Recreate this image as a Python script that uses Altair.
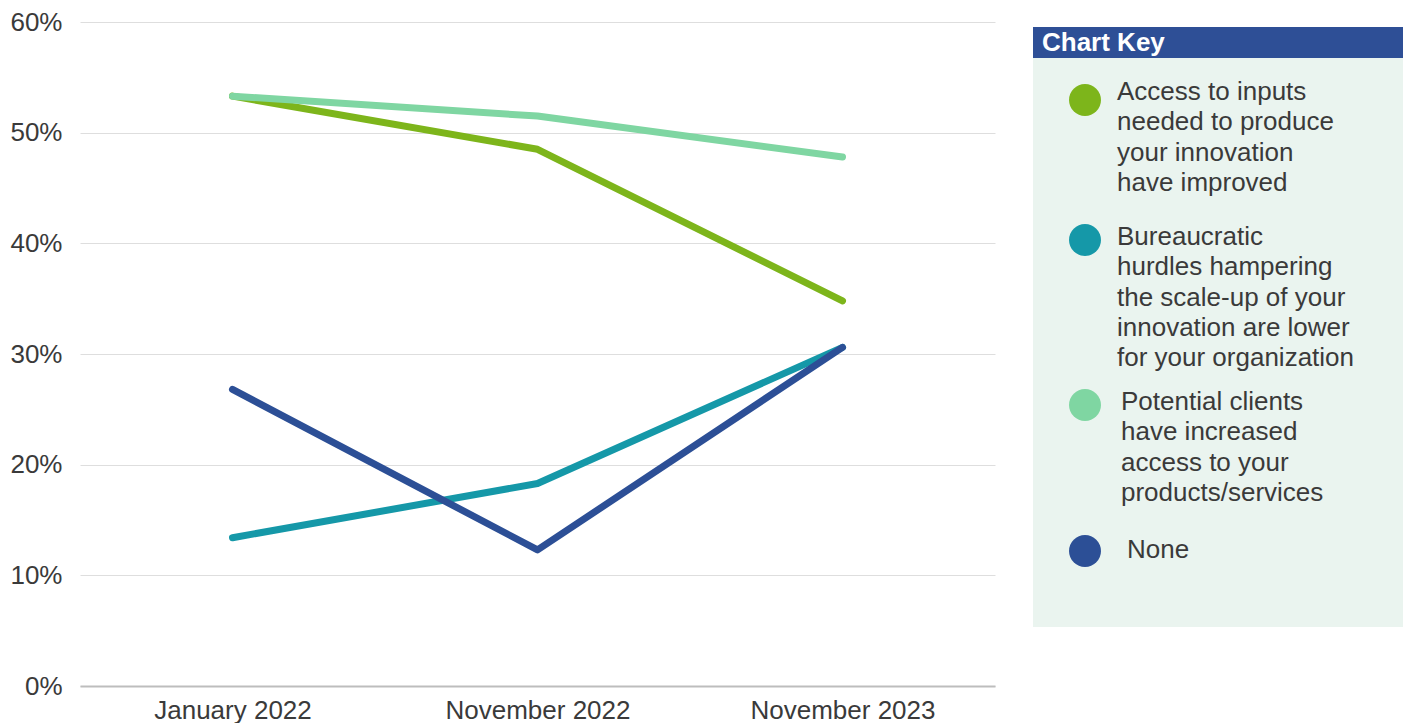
import altair as alt
import pandas as pd

# ---- data ----
periods = ["January 2022", "November 2022", "November 2023"]
series = [
    "Access to inputs needed to produce your innovation have improved",
    "Bureaucratic hurdles hampering the scale-up of your innovation are lower for your organization",
    "Potential clients have increased access to your products/services",
    "None",
]
access = [53.3, 48.5, 34.8]
bureau = [13.4, 18.3, 30.6]
clients = [53.3, 51.5, 47.8]
none_ = [26.8, 12.3, 30.6]
values = [access, bureau, clients, none_]

legend_lines = [
    "Access to inputs\nneeded to produce\nyour innovation\nhave improved",
    "Bureaucratic\nhurdles hampering\nthe scale-up of your\ninnovation are lower\nfor your organization",
    "Potential clients\nhave increased\naccess to your\nproducts/services",
    "None",
]

# ---- style / layout ----
colors = ["#7DB51B", "#1598A8", "#7FD6A2", "#2C4F96"]
FONT = "Liberation Sans"
TXT = "#3a3a3a"
OFF = 5  # legend panel top offset inside its view
PANEL_W, PANEL_H = 370, 600
circle_y = [73, 213, 378, 524]
text_y = [65, 210, 375, 523]
text_x = [84, 84, 88, 94]

rows = []
for s, vals in zip(series, values):
    for p, v in zip(periods, vals):
        rows.append({"series": s, "period": p, "value": v})
df = pd.DataFrame(rows)

color_scale = alt.Scale(domain=series, range=colors)

lines = alt.Chart(df).mark_line(
    strokeWidth=7, strokeCap="round", strokeJoin="round"
).encode(
    x=alt.X(
        "period:N",
        sort=periods,
        scale=alt.Scale(type="point", padding=0.5),
        axis=alt.Axis(
            title=None, labelAngle=0, ticks=False, domain=True,
            domainColor="#bdbdbd", domainWidth=2, labelPadding=11,
            labelFontSize=26, labelFont=FONT, labelColor=TXT, grid=False,
            labelLimit=400, labelOverlap=False,
        ),
    ),
    y=alt.Y(
        "value:Q",
        scale=alt.Scale(domain=[0, 60], nice=False),
        axis=alt.Axis(
            title=None, values=[0, 10, 20, 30, 40, 50, 60],
            labelExpr="datum.value + '%'", ticks=False, domain=False,
            gridColor="#dedede", gridWidth=1, labelPadding=18,
            labelFontSize=26, labelFont=FONT, labelColor=TXT,
        ),
    ),
    color=alt.Color("series:N", scale=color_scale, legend=None),
    detail="series:N",
).properties(width=915, height=664)

# ---- custom legend panel ----
leg_df = pd.DataFrame({
    "series": series,
    "label": legend_lines,
    "cy": [v + OFF for v in circle_y],
    "ty": [v + OFF for v in text_y],
    "tx": text_x,
})

base = alt.Chart(leg_df)
panel = base.mark_rect(color="#EAF4EF").encode(
    x=alt.value(0), x2=alt.value(PANEL_W), y=alt.value(OFF), y2=alt.value(OFF + PANEL_H)
)
header = base.mark_rect(color="#2E4F96").encode(
    x=alt.value(0), x2=alt.value(PANEL_W), y=alt.value(OFF), y2=alt.value(OFF + 31)
)
header_text = alt.Chart(pd.DataFrame({"t": ["Chart Key"]})).mark_text(
    font=FONT, fontSize=26, fontWeight="bold", color="white",
    align="left", baseline="middle",
).encode(x=alt.value(9), y=alt.value(OFF + 16), text="t:N")
dots = base.mark_circle(size=1020, opacity=1).encode(
    x=alt.value(52),
    y=alt.Y("cy:Q", scale=None),
    color=alt.Color("series:N", scale=color_scale, legend=None),
)
labels = base.mark_text(
    font=FONT, fontSize=26, color=TXT, align="left", baseline="middle",
    lineBreak="\n", lineHeight=30.3,
).encode(
    x=alt.X("tx:Q", scale=None),
    y=alt.Y("ty:Q", scale=None),
    text="label:N",
)
legend = alt.layer(panel, header, header_text, dots, labels).properties(
    width=PANEL_W, height=PANEL_H + OFF
)

chart = alt.hconcat(lines, legend, spacing=38).properties(
    padding={"left": 9, "top": 9, "right": 0, "bottom": 0},
    background="white",
).configure_view(stroke=None)

chart.save("out.html", embed_options={"renderer": "svg", "actions": False})
